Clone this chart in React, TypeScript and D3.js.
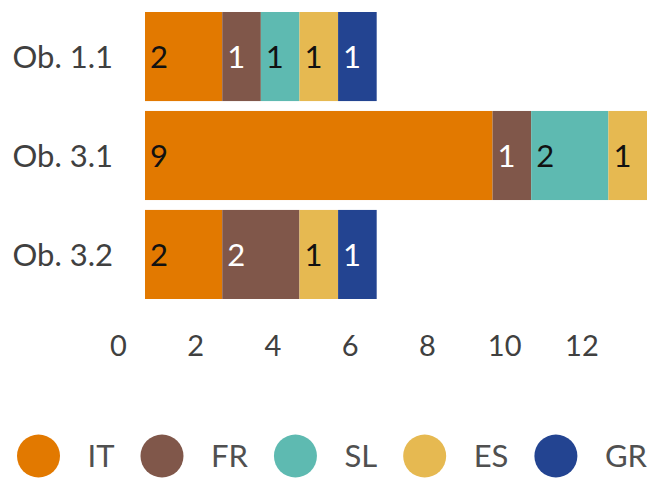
import React from "react";
import * as d3 from "d3";

const categories = ["Ob. 1.1", "Ob. 3.1", "Ob. 3.2"];
const seriesNames = ["IT", "FR", "SL", "ES", "GR"];
const IT = [2, 9, 2];
const FR = [1, 1, 2];
const SL = [1, 2, 0];
const ES = [1, 1, 1];
const GR = [1, 0, 1];
const xTicks = [0, 2, 4, 6, 8, 10, 12];

const colors: Record<string, string> = {
  IT: "#E27900",
  FR: "#80574A",
  SL: "#5EBAB1",
  ES: "#E6B951",
  GR: "#234491",
};
const labelColors: Record<string, string> = {
  IT: "#111",
  FR: "#fff",
  SL: "#111",
  ES: "#111",
  GR: "#fff",
};

const W = 658;
const H = 478;
const FONT = "Lato, 'Open Sans', sans-serif";
const WEIGHT = 400;
const LABEL_SIZE = 31;
const TICK_SIZE = 29;
const LEGEND_SIZE = 31;

function measure(text: string, size: number) {
  const c = document.createElement("canvas").getContext("2d");
  if (!c) return text.length * size * 0.5;
  c.font = `${WEIGHT} ${size}px Lato, 'Open Sans', sans-serif`;
  return c.measureText(text).width;
}

export default function App() {
  const rows = categories.map((c, i) => ({
    cat: c,
    IT: IT[i],
    FR: FR[i],
    SL: SL[i],
    ES: ES[i],
    GR: GR[i],
  }));
  const stack = d3.stack<any>().keys(seriesNames)(rows);
  const x = d3.scaleLinear().domain([0, 13]).range([145, 647]);
  const y = d3
    .scaleBand()
    .domain(categories)
    .range([12, 299])
    .paddingInner(0.1)
    .paddingOuter(0);

  const r = 21.5;
  const legendItems: { s: string; cx: number }[] = [];
  let cursor = 17;
  seriesNames.forEach((s) => {
    const cx = cursor + r;
    legendItems.push({ s, cx });
    cursor = cx + 49 + measure(s, LEGEND_SIZE) + 26;
  });

  return (
    <svg width={W} height={H} style={{ display: "block", position: "absolute", left: 0, top: 0 }}>
      {stack.map((layer) => (
        <g key={layer.key}>
          {layer.map((d, i) => {
            const v = d[1] - d[0];
            if (v <= 0) return null;
            const cat = categories[i];
            const y0 = y(cat)!;
            return (
              <g key={cat}>
                <rect
                  x={x(d[0])}
                  y={y0}
                  width={x(d[1]) - x(d[0])}
                  height={y.bandwidth()}
                  fill={colors[layer.key]}
                />
                <text
                  x={x(d[0]) + 5}
                  y={y0 + y.bandwidth() / 2}
                  dy="0.36em"
                  fontFamily={FONT}
                  fontWeight={WEIGHT}
                  fontSize={LABEL_SIZE}
                  fill={labelColors[layer.key]}
                >
                  {v}
                </text>
              </g>
            );
          })}
        </g>
      ))}
      {categories.map((c) => (
        <text
          key={c}
          x={113}
          y={y(c)! + y.bandwidth() / 2}
          dy="0.36em"
          textAnchor="end"
          fontFamily={FONT}
          fontWeight={WEIGHT}
          fontSize={LABEL_SIZE}
          fill="#404040"
        >
          {c}
        </text>
      ))}
      {xTicks.map((t) => (
        <text
          key={t}
          x={x(t) - 26.5}
          y={346}
          dy="0.36em"
          textAnchor="middle"
          fontFamily={FONT}
          fontWeight={WEIGHT}
          fontSize={TICK_SIZE}
          fill="#404040"
        >
          {t}
        </text>
      ))}
      {legendItems.map(({ s, cx }) => (
        <g key={s}>
          <circle cx={cx} cy={456} r={r} fill={colors[s]} />
          <text
            x={cx + 49}
            y={456}
            dy="0.36em"
            fontFamily={FONT}
            fontWeight={WEIGHT}
            fontSize={LEGEND_SIZE}
            fill="#505050"
          >
            {s}
          </text>
        </g>
      ))}
    </svg>
  );
}
